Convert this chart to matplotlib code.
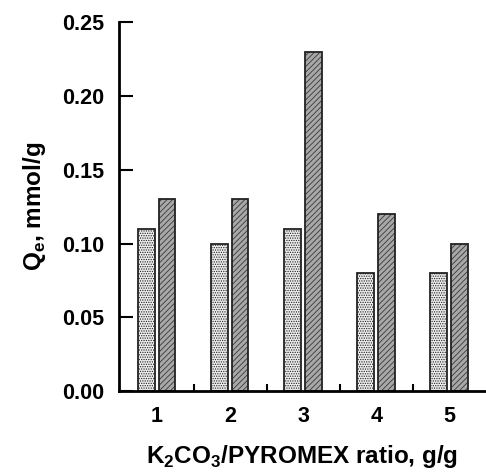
import numpy as np
import matplotlib.pyplot as plt
from matplotlib.ticker import FixedLocator

plt.rcParams['font.family'] = ['Liberation Sans', 'DejaVu Sans']
plt.rcParams['font.weight'] = 'bold'
plt.rcParams['mathtext.fontset'] = 'custom'
plt.rcParams['mathtext.rm'] = 'Liberation Sans:bold'
plt.rcParams['mathtext.bf'] = 'Liberation Sans:bold'
plt.rcParams['hatch.linewidth'] = 0.6

ratio = [1, 2, 3, 4, 5]
qe_light = [0.11, 0.10, 0.11, 0.08, 0.08]
qe_dark = [0.13, 0.13, 0.23, 0.12, 0.10]

fig = plt.figure(figsize=(4.86, 4.73), dpi=100)
ax = fig.add_axes([0.245, 0.173, 0.755, 0.78])

x = np.array(ratio)
w = 0.23
plt.rcParams['hatch.color'] = '#9a9a9a'
ax.bar(x - 0.15, qe_light, w, color='#ececec', edgecolor='#222222',
       linewidth=1.3, hatch='.......')
b2 = ax.bar(x + 0.135, qe_dark, w, color='#a8a8a8', edgecolor='#222222',
            linewidth=1.3, hatch='//////')
for p in b2:
    p._hatch_color = (0.22, 0.22, 0.22, 1.0)

ax.set_xlim(0.48, 5.5)
ax.set_ylim(0, 0.25)
ax.set_xticks(ratio)
ax.xaxis.set_minor_locator(FixedLocator([1.5, 2.5, 3.5, 4.5]))
ax.set_yticks([0, 0.05, 0.10, 0.15, 0.20, 0.25])
ax.set_yticklabels(['0.00', '0.05', '0.10', '0.15', '0.20', '0.25'])

for s in ['top', 'right']:
    ax.spines[s].set_visible(False)
for s in ['left', 'bottom']:
    ax.spines[s].set_linewidth(2)

ax.tick_params(axis='y', direction='in', length=10, width=1.5,
               labelsize=15.5, pad=11)
ax.tick_params(axis='x', which='major', length=0, labelsize=15.5, pad=11)
ax.tick_params(axis='x', which='minor', direction='in', length=5, width=1.5)

ax.set_ylabel('Q$_\\mathregular{e}$, mmol/g', fontsize=17.5, fontweight='bold',
              labelpad=10)
ax.set_xlabel('K$_\\mathregular{2}$CO$_\\mathregular{3}$/PYROMEX ratio, g/g',
              fontsize=17.5, fontweight='bold', labelpad=11)

fig.savefig('out.png', dpi=100)
